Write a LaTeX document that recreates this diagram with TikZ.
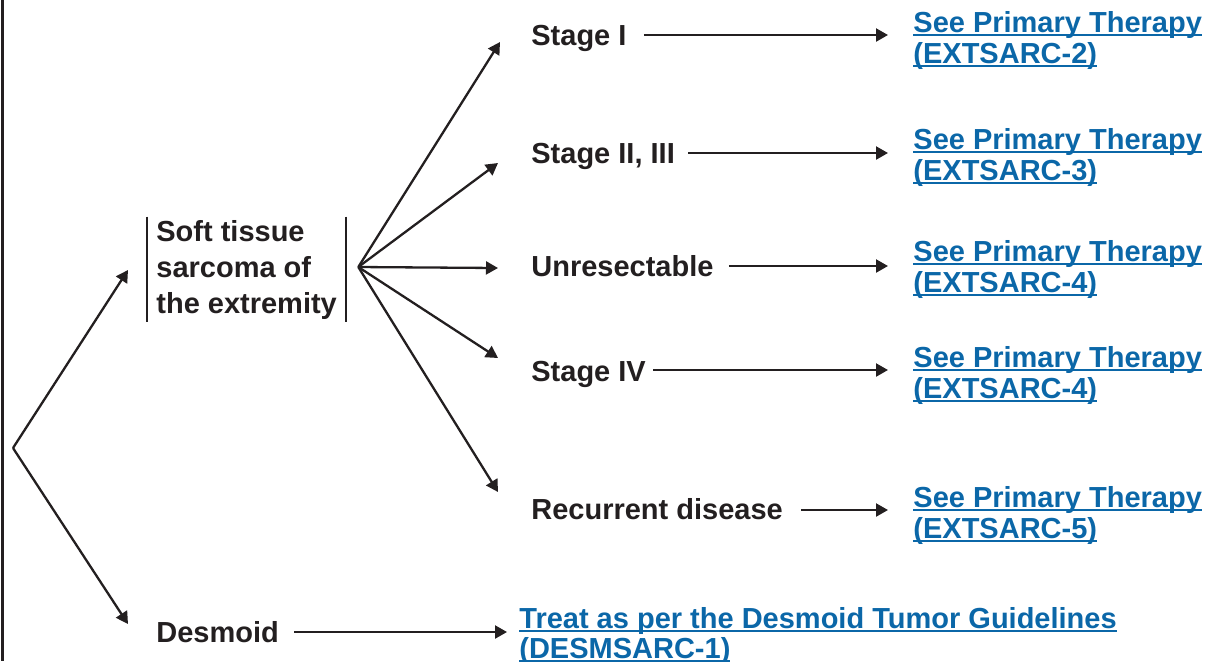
\documentclass[tikz,border=0pt]{standalone}
\usepackage{fontspec}
\setmainfont{Liberation Sans}
\usetikzlibrary{arrows.meta,calc,positioning}
\definecolor{txt}{HTML}{231F20}
\definecolor{lnkblue}{HTML}{0B67A8}
\newcommand\lnk[1]{\setbox0\hbox{#1}\rlap{\rule[-2pt]{\wd0}{1pt}}\box0}

\begin{document}
\begin{tikzpicture}[x=0.5pt,y=-0.5pt,
  every node/.style={font=\fontsize{14.5pt}{18pt}\selectfont\bfseries, text=txt, inner sep=0pt},
  arr/.style={draw=txt, line width=1.15pt, -{Triangle[length=6pt,width=6.5pt]}},
  stage/.style={anchor=west, text height=10.4pt, text depth=0pt},
  link/.style={anchor=north west, align=left, text=lnkblue, font=\fontsize{14.5pt}{15.5pt}\selectfont\bfseries}]

\useasboundingbox (0,0) rectangle (1211,661);

% page rule
\draw [txt, line width=1.5pt] (2,0) -- (2,661);

% first split
\coordinate (fork) at (13,448);
\node [anchor=west, align=left, inner xsep=4.5pt, inner ysep=1.5pt] (sts) at (147,269.5) {Soft tissue\\sarcoma of\\the extremity};
\draw [txt, line width=1pt] (sts.north west) -- (sts.south west);
\draw [txt, line width=1pt] (sts.north east) -- (sts.south east);
\node [stage] (dsm) at (156,632) {Desmoid};
\draw [arr] (fork) -- ($(sts.west)+(-19,0.5)$);
\draw [arr] (fork) -- ($(dsm.west)+(-28,-8)$);

% stages
\coordinate (fan) at ($(sts.east)+(12,-2.5)$);
\node [stage] (st1) at (531,35) {Stage I};
\node [stage] (st2) at (531,153) {Stage II, III};
\node [stage] (st3) at (531,266) {Unresectable};
\node [stage] (st4) at (531,371) {Stage IV};
\node [stage] (st5) at (531,509) {Recurrent disease};
\draw [arr] (fan) -- ($(st1.west)+(-31,7)$);
\draw [arr] (fan) -- ($(st2.west)+(-33,10)$);
\draw [arr] (fan) -- ($(st3.west)+(-33,2)$);
\draw [arr] (fan) -- ($(st4.west)+(-33,-13)$);
\draw [arr] (fan) -- ($(st5.west)+(-33,-17)$);

% links
\node [link] (lk1) at (913,11) {\lnk{See Primary Therapy}\\\lnk{(EXTSARC-2)}};
\node [link] (lk2) at (913,128) {\lnk{See Primary Therapy}\\\lnk{(EXTSARC-3)}};
\node [link] (lk3) at (913,240) {\lnk{See Primary Therapy}\\\lnk{(EXTSARC-4)}};
\node [link] (lk4) at (913,346) {\lnk{See Primary Therapy}\\\lnk{(EXTSARC-4)}};
\node [link] (lk5) at (913,486) {\lnk{See Primary Therapy}\\\lnk{(EXTSARC-5)}};
\node [link, font=\fontsize{14.5pt}{15pt}\selectfont\bfseries] (lkd) at (519,607) {\lnk{Treat as per the Desmoid Tumor Guidelines}\\\lnk{(DESMSARC-1)}};

\draw [arr] ($(st1.east)+(17,0)$) -- ($(st1.east -| lk1.west)+(-25,0)$);
\draw [arr] ($(st2.east)+(13,0)$) -- ($(st2.east -| lk2.west)+(-25,0)$);
\draw [arr] ($(st3.east)+(15,0)$) -- ($(st3.east -| lk3.west)+(-25,0)$);
\draw [arr] ($(st4.east)+(7,-1)$) -- ($(st4.east -| lk4.west)+(-25,-1)$);
\draw [arr] ($(st5.east)+(18,1)$) -- ($(st5.east -| lk5.west)+(-25,1)$);
\draw [arr] ($(dsm.east)+(15,0)$) -- ($(dsm.east -| lkd.west)+(-12,0)$);

\end{tikzpicture}
\end{document}
